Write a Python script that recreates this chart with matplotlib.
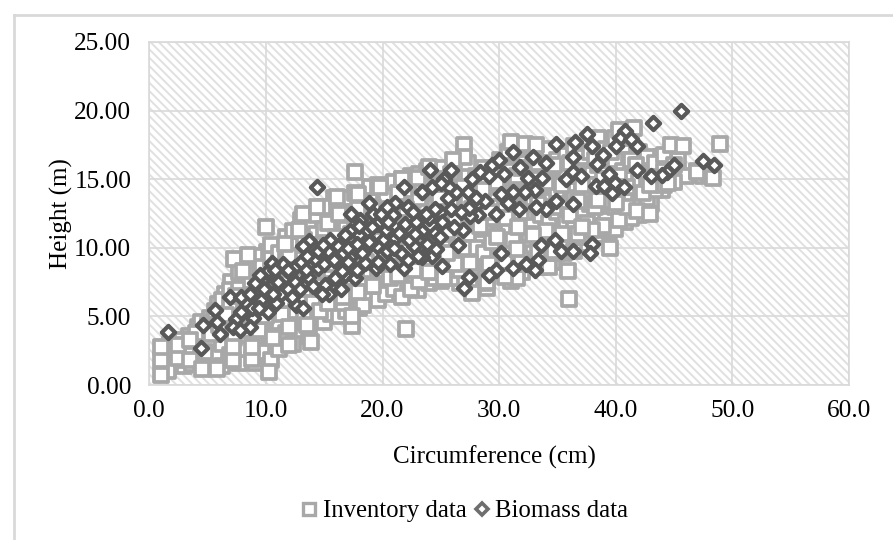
import matplotlib
matplotlib.use("Agg")
import matplotlib.pyplot as plt
from matplotlib.lines import Line2D

plt.rcParams['font.family'] = ['Liberation Serif', 'DejaVu Serif']
plt.rcParams['hatch.color'] = '#e0e0e0'
plt.rcParams['hatch.linewidth'] = 1.4

# values
# squares that stand clear of the cloud, drawn last
inv_out_x = [1.0, 1.0, 1.0, 2.5, 2.5, 3.5, 3.5, 4.5, 5.8, 7.2, 7.2, 8.8, 8.8, 10.3, 10.6, 12.0, 12.0, 13.9, 13.5,
             17.4, 17.4, 22.0, 16.6, 10.0, 7.3, 8.5, 8.0, 11.6, 12.8, 13.2, 14.9, 16.3, 17.6, 16.1, 17.9, 14.4,
             19.8, 21.7, 23.0, 24.0, 27.0, 27.0, 26.0, 31.0, 32.2, 33.2, 40.3, 41.6, 44.7, 45.8, 48.9, 48.3, 47.0,
             35.9, 36.0, 39.5, 41.8, 38.5, 37.1, 40.0, 44.5, 42.9, 38.0, 37.1, 32.9, 31.5, 27.5, 30.5, 27.7, 29.0,
             25.3, 30.6, 31.6, 28.6, 25.5, 24.0, 42.9]
inv_out_y = [0.7, 1.8, 2.8, 2.0, 2.9, 1.8, 3.3, 1.2, 1.2, 1.8, 2.8, 1.9, 2.8, 0.95, 3.4, 2.9, 4.2, 3.1, 4.4,
             4.3, 5.0, 4.1, 6.4, 11.5, 9.2, 9.5, 8.3, 10.3, 11.3, 12.5, 13.0, 12.5, 15.5, 13.7, 13.9, 13.0,
             14.4, 15.0, 15.1, 15.9, 17.5, 16.6, 16.4, 17.7, 17.6, 17.5, 18.6, 18.7, 17.5, 17.4, 17.6, 15.1, 15.5,
             8.3, 6.3, 10.0, 12.7, 13.5, 14.6, 13.3, 14.7, 14.6, 11.3, 11.5, 10.9, 9.9, 8.9, 7.9, 6.7, 7.5,
             7.8, 12.2, 11.5, 14.2, 9.6, 8.2, 12.5]

# the dense band
inv_band_x = [1.2, 1.5, 1.8, 2.1, 2.4, 3.0, 3.0, 3.4, 3.9, 4.2, 4.2, 4.7, 4.9, 5.2, 5.2, 5.5, 5.7, 5.9, 6.1, 6.3,
              6.5, 6.6, 6.8, 7.0, 7.2, 7.5, 7.6, 7.9, 8.0, 8.2, 8.4, 8.6, 8.9, 9.0, 9.3, 9.4, 9.6, 9.8, 9.9, 10.1,
              10.2, 10.4, 10.5, 10.8, 11.0, 11.0, 11.3, 11.4, 11.6, 11.8, 12.0, 12.2, 12.4, 12.5, 12.7, 12.9, 13.0,
              13.2, 13.5, 13.6, 13.8, 14.0, 14.0, 14.4, 14.5, 14.7, 15.0, 15.0, 15.3, 15.5, 15.7, 15.8, 16.0, 16.2,
              16.5, 16.8, 17.0, 17.0, 17.3, 17.5, 17.8, 18.0, 18.2, 18.5, 18.7, 19.0, 19.0, 19.4, 19.5, 19.8, 20.0,
              20.2, 20.4, 20.6, 20.8, 21.0, 21.2, 21.4, 21.6, 22.0, 22.0, 22.3, 22.6, 22.8, 23.0, 23.3, 23.5, 23.8,
              24.0, 24.3, 24.6, 24.8, 25.0, 25.2, 25.6, 25.8, 26.0, 26.3, 26.6, 26.8, 27.0, 27.2, 27.4, 27.6, 28.0,
              28.0, 28.3, 28.6, 29.0, 29.0, 29.3, 29.6, 30.0, 30.0, 30.3, 30.6, 31.0, 31.0, 31.3, 31.6, 32.0, 32.0,
              32.3, 32.7, 33.0, 33.2, 33.5, 33.8, 34.0, 34.0, 34.3, 34.6, 35.0, 35.0, 35.3, 35.6, 36.0, 36.0, 36.3,
              36.6, 37.0, 37.0, 37.4, 37.7, 38.0, 38.4, 38.8, 39.0, 39.0, 39.4, 39.8, 40.0, 40.4, 40.8, 41.0, 41.2,
              41.6, 42.0, 42.0, 42.4, 42.8, 43.0, 43.4, 43.8, 44.0, 44.5, 45.0, 45.3, 46.0, 47.5, 48.0]
inv_band_y = [1.5, 2.2, 3.0, 1.6, 3.1, 1.4, 2.6, 3.6, 2.4, 4.2, 3.4, 2.0, 3.8, 4.9, 2.8, 1.5, 3.6, 5.9, 2.4, 4.5,
              6.6, 1.7, 3.2, 7.5, 5.2, 3.7, 6.2, 2.4, 4.5, 7.2, 5.5, 3.5, 6.8, 8.6, 4.7, 2.2, 3.4, 5.9, 7.8, 9.7,
              2.7, 4.4, 6.7, 9.0, 8.0, 5.2, 3.2, 10.0, 6.5, 8.8, 5.4, 7.3, 4.2, 9.6, 10.6, 6.2, 3.6,
              8.2, 12.2, 5.5, 9.8, 11.5, 6.9, 4.9, 8.6, 12.0, 5.3, 10.8, 7.0, 9.2, 11.9, 13.6, 5.7, 8.0,
              10.3, 12.0, 6.2, 7.4, 9.4, 11.2, 13.2, 5.6, 7.0, 8.5, 12.8, 6.4, 10.2, 14.0, 7.6, 6.8, 9.0,
              11.6, 14.5, 7.2, 8.2, 13.0, 6.7, 10.0, 12.0, 7.5, 14.8, 9.2, 13.5, 7.8, 6.9, 11.0, 8.8, 14.8,
              7.4, 12.8, 15.2, 9.5, 7.6, 11.4, 14.9, 8.3, 13.0, 9.8, 7.4, 11.2, 15.0, 8.6, 12.6, 9.8, 7.4,
              14.6, 10.8, 8.8, 13.0, 7.1, 9.6, 11.6, 15.0, 8.4, 10.2, 13.5, 7.6, 12.0, 9.0, 14.8, 8.2, 10.4,
              13.0, 15.6, 9.2, 11.8, 8.6, 14.2, 10.6, 16.8, 12.5, 9.0, 15.6, 11.5, 13.5, 9.6, 17.0, 10.6, 12.6,
              14.2, 16.0, 10.3, 12.4, 17.5, 15.0, 10.9, 12.8, 17.8, 14.8, 11.2, 16.0, 12.4, 14.8, 11.9, 16.8, 13.6,
              15.2, 17.0, 12.4, 14.4, 16.2, 13.2, 15.6, 16.6, 14.2, 15.8, 15.0, 16.4, 15.2, 15.2, 15.4]

# second and third pass through the band, where the squares pile into solid grey
inv_fill = [
    (1.6, 1.0), (1.6, 2.6), (2.8, 1.8), (2.8, 3.3), (3.7, 1.5), (3.7, 2.9), (4.4, 1.6), (4.4, 2.6), (4.4, 4.6),
    (5.0, 1.3), (5.0, 3.2), (5.0, 4.4), (5.6, 2.2), (5.6, 4.2), (5.6, 5.4), (6.2, 1.4), (6.2, 3.0), (6.2, 5.2), (6.2, 6.2),
    (6.9, 2.2), (6.9, 4.0), (6.9, 5.8), (6.9, 6.9), (7.7, 1.6), (7.7, 3.1), (7.7, 4.9), (7.7, 7.0), (7.7, 8.2),
    (8.3, 2.6), (8.3, 4.0), (8.3, 6.0), (8.3, 8.6), (9.1, 1.6), (9.1, 3.0), (9.1, 5.2), (9.1, 7.2), (9.1, 9.4),
    (9.7, 2.4), (9.7, 4.2), (9.7, 6.4), (9.7, 8.6), (10.4, 1.8), (10.4, 3.6), (10.4, 5.6), (10.4, 7.6), (10.4, 9.2), (10.4, 10.2),
    (11.1, 2.6), (11.1, 4.6), (11.1, 6.2), (11.1, 8.6), (11.1, 9.6), (11.7, 3.8), (11.7, 5.6), (11.7, 7.4), (11.7, 9.2), (11.7, 10.8),
    (12.3, 3.0), (12.3, 4.8), (12.3, 6.8), (12.3, 8.4), (12.3, 10.2), (12.3, 11.2), (13.0, 4.6), (13.0, 6.4), (13.0, 7.8), (13.0, 9.2), (13.0, 11.4), (13.0, 12.0),
    (13.7, 3.8), (13.7, 5.0), (13.7, 7.2), (13.7, 8.8), (13.7, 10.4), (13.7, 11.8), (14.3, 5.8), (14.3, 7.6), (14.3, 9.4), (14.3, 11.0), (14.3, 12.4),
    (15.0, 4.6), (15.0, 6.2), (15.0, 8.0), (15.0, 9.6), (15.0, 11.4), (15.0, 13.0), (15.6, 5.2), (15.6, 6.8), (15.6, 8.4), (15.6, 10.2), (15.6, 12.4),
    (16.3, 5.0), (16.3, 6.6), (16.3, 7.6), (16.3, 9.0), (16.3, 11.0), (16.3, 13.0), (16.9, 5.4), (16.9, 8.6), (16.9, 10.2), (16.9, 11.6), (16.9, 13.6),
    (17.6, 6.6), (17.6, 8.2), (17.6, 9.6), (17.6, 11.4), (17.6, 12.6), (17.6, 14.0), (18.3, 5.8), (18.3, 7.6), (18.3, 9.2), (18.3, 10.8), (18.3, 12.2), (18.3, 13.8),
    (18.9, 6.8), (18.9, 8.4), (18.9, 10.0), (18.9, 11.6), (18.9, 13.4), (18.9, 14.4), (19.6, 6.2), (19.6, 7.8), (19.6, 9.4), (19.6, 11.0), (19.6, 12.6), (19.6, 14.6),
    (20.3, 6.6), (20.3, 8.6), (20.3, 10.4), (20.3, 12.4), (20.3, 13.8), (21.0, 7.0), (21.0, 9.2), (21.0, 11.0), (21.0, 12.6), (21.0, 14.8),
    (21.7, 6.4), (21.7, 8.4), (21.7, 10.4), (21.7, 13.2), (21.7, 15.0), (22.4, 7.0), (22.4, 8.6), (22.4, 10.4), (22.4, 12.2), (22.4, 14.2), (22.4, 15.2),
    (23.1, 7.6), (23.1, 9.4), (23.1, 11.8), (23.1, 13.6), (23.1, 15.4), (23.8, 8.4), (23.8, 10.2), (23.8, 12.2), (23.8, 14.2), (23.8, 15.6),
    (24.5, 7.8), (24.5, 9.0), (24.5, 10.8), (24.5, 13.0), (24.5, 14.6), (25.2, 8.6), (25.2, 10.2), (25.2, 12.6), (25.2, 14.0), (25.2, 15.8),
    (25.9, 7.8), (25.9, 9.2), (25.9, 11.0), (25.9, 13.4), (25.9, 15.4), (26.6, 8.4), (26.6, 10.4), (26.6, 12.4), (26.6, 14.2), (26.6, 16.0),
    (27.3, 9.4), (27.3, 11.0), (27.3, 13.4), (27.3, 15.4), (27.3, 16.2), (28.0, 8.2), (28.0, 10.0), (28.0, 12.0), (28.0, 13.8), (28.0, 15.2),
    (28.7, 7.4), (28.7, 9.6), (28.7, 11.4), (28.7, 13.0), (28.7, 14.8), (28.7, 15.8), (29.4, 8.4), (29.4, 10.4), (29.4, 12.2), (29.4, 14.0), (29.4, 15.4),
    (30.1, 9.2), (30.1, 11.0), (30.1, 13.0), (30.1, 14.4), (30.1, 16.4), (30.8, 8.2), (30.8, 10.0), (30.8, 11.4), (30.8, 14.2), (30.8, 15.6), (30.8, 17.0),
    (31.5, 7.8), (31.5, 9.4), (31.5, 11.0), (31.5, 13.0), (31.5, 15.2), (31.5, 16.8), (32.2, 8.8), (32.2, 10.2), (32.2, 12.2), (32.2, 14.0), (32.2, 16.2),
    (32.9, 9.6), (32.9, 11.6), (32.9, 13.6), (32.9, 15.0), (32.9, 17.0), (33.6, 9.0), (33.6, 10.8), (33.6, 12.4), (33.6, 14.6), (33.6, 16.6),
    (34.3, 8.6), (34.3, 10.0), (34.3, 11.8), (34.3, 13.4), (34.3, 15.0), (34.3, 17.2), (35.0, 9.6), (35.0, 10.6), (35.0, 12.6), (35.0, 14.2), (35.0, 16.4),
    (35.7, 10.2), (35.7, 11.8), (35.7, 13.0), (35.7, 15.4), (35.7, 16.8), (36.4, 9.8), (36.4, 11.4), (36.4, 13.6), (36.4, 15.6), (36.4, 17.4),
    (37.1, 10.8), (37.1, 12.6), (37.1, 14.0), (37.1, 16.6), (37.8, 11.6), (37.8, 13.2), (37.8, 15.4), (37.8, 17.0),
    (38.5, 11.4), (38.5, 12.6), (38.5, 14.6), (38.5, 16.0), (38.5, 18.0), (39.2, 12.0), (39.2, 13.6), (39.2, 15.4), (39.2, 17.2),
    (39.9, 11.4), (39.9, 13.0), (39.9, 14.6), (39.9, 16.4), (39.9, 18.0), (40.6, 12.6), (40.6, 14.0), (40.6, 15.6), (40.6, 17.4),
    (41.3, 12.2), (41.3, 13.4), (41.3, 15.0), (41.3, 16.4), (41.3, 18.0), (42.0, 13.2), (42.0, 14.8), (42.0, 16.0),
    (42.7, 13.6), (42.7, 15.0), (42.7, 16.6), (43.4, 14.2), (43.4, 15.2), (43.4, 16.2), (44.1, 14.6), (44.1, 15.6), (44.1, 16.8),
    (45.0, 14.8), (45.0, 16.0), (47.0, 15.6),
    # third pass
    (3.2, 2.2), (4.0, 3.8), (4.8, 2.4), (5.3, 3.7), (6.0, 4.4), (6.6, 5.1), (7.3, 3.4), (7.4, 6.5), (8.1, 5.2), (8.7, 7.6), (9.4, 6.2), (9.4, 4.0),
    (10.0, 7.2), (10.0, 5.0), (10.7, 8.4), (10.7, 6.0), (11.4, 7.0), (11.4, 5.2), (12.0, 9.4), (12.0, 6.2), (12.6, 7.6), (12.6, 5.4), (13.3, 10.6), (13.3, 7.0), (13.3, 4.9),
    (14.0, 8.2), (14.0, 6.0), (14.6, 10.2), (14.6, 7.2), (14.6, 5.4), (15.3, 11.8), (15.3, 8.8), (15.3, 6.0), (16.0, 10.8), (16.0, 7.2), (16.6, 12.4), (16.6, 9.4), (16.6, 6.0),
    (17.3, 11.0), (17.3, 7.8), (17.9, 12.8), (17.9, 10.0), (17.9, 6.8), (18.6, 11.4), (18.6, 9.0), (19.2, 13.0), (19.2, 7.2), (19.9, 10.6), (19.9, 8.4), (20.6, 12.8), (20.6, 9.6), (20.6, 7.8),
    (21.3, 14.0), (21.3, 11.4), (21.3, 8.0), (22.0, 12.8), (22.0, 9.8), (22.7, 11.2), (22.7, 8.4), (23.4, 14.4), (23.4, 10.0), (24.1, 11.4), (24.1, 9.2), (24.8, 13.6), (24.8, 8.2),
    (25.5, 11.2), (25.5, 15.0), (26.2, 12.2), (26.2, 8.8), (26.9, 14.4), (26.9, 10.0), (27.7, 12.8), (27.7, 8.6), (28.4, 11.6), (28.4, 14.6), (29.1, 8.8), (29.1, 12.6), (29.8, 10.8), (29.8, 14.8),
    (30.5, 9.0), (30.5, 12.8), (31.2, 10.6), (31.2, 14.0), (31.9, 9.2), (31.9, 12.6), (31.9, 15.8), (32.6, 11.0), (32.6, 14.2), (33.3, 9.8), (33.3, 13.2), (33.3, 16.2),
    (34.0, 11.2), (34.0, 14.8), (34.7, 9.8), (34.7, 13.0), (34.7, 16.0), (35.4, 11.0), (35.4, 14.6), (36.1, 12.4), (36.1, 16.2), (36.8, 11.0), (36.8, 13.4), (36.8, 15.2),
    (37.5, 11.8), (37.5, 14.6), (38.2, 13.0), (38.2, 16.4), (38.9, 11.6), (38.9, 15.0), (39.6, 13.4), (39.6, 17.0), (40.3, 12.0), (40.3, 15.2), (41.0, 14.4), (41.0, 13.0), (41.7, 16.0), (42.3, 14.0),
]

bio_x = [1.6, 4.4, 5.6, 4.6, 5.8, 6.1, 6.9, 7.4, 7.2, 7.9, 7.9, 8.6, 9.6, 8.9, 8.6, 10.2, 9.1, 10.6, 11.3, 10.1,
         12.4, 12.6, 14.4, 17.3, 18.8, 21.1, 21.8, 23.4, 19.2, 19.9, 20.9, 21.9, 22.9, 23.4, 18.7, 19.5, 17.2, 18.0,
         15.5, 13.7, 13.2, 14.7, 16.2, 20.0, 21.1, 19.5, 18.5, 17.2, 16.1, 14.5, 12.5, 13.6, 12.5, 15.1, 14.0, 15.9,
         16.8, 17.6, 15.4, 18.5, 19.4, 20.6, 21.8, 21.6, 22.7, 11.5, 10.5, 13.2, 10.9, 24.1, 25.9, 25.3, 24.2, 23.4,
         26.3, 25.7, 27.7, 28.4, 29.1, 29.4, 30.0, 31.2, 30.4, 31.8, 32.9, 34.0, 34.9, 35.7, 33.7, 33.1, 32.2, 31.2,
         30.2, 30.8, 31.7, 28.1, 29.7, 28.2, 27.5, 34.0, 34.9, 25.6, 25.9, 24.0, 26.9, 26.1, 24.5, 23.4, 26.5, 24.2,
         25.1, 23.4, 30.2, 33.6, 34.8, 35.3, 33.3, 31.2, 32.3, 33.1, 29.7, 29.1, 27.4, 27.0, 45.6, 43.2, 48.4, 47.5,
         45.0, 44.4, 44.0, 43.0, 41.8, 41.8, 40.8, 40.4, 40.0, 41.3, 38.9, 38.0, 37.5, 36.5, 36.3, 38.4, 39.4, 36.3,
         39.9, 40.7, 39.7, 38.3, 36.3, 38.0, 37.8, 36.3,
         14.2, 15.0, 16.6, 17.8, 18.2, 19.0, 20.4, 21.4, 22.3, 23.0, 23.8, 24.6, 24.9, 22.2, 20.4, 18.1, 16.8, 15.3,
         13.0, 12.0, 11.0, 9.8, 8.8, 12.9, 14.8, 16.4, 27.3, 28.8, 33.2, 32.5, 37.0, 39.0,
         9.5, 10.8, 11.9, 12.2, 13.4, 14.5, 15.8, 16.5, 17.0, 17.8, 18.8, 19.6, 20.3, 21.0, 22.2, 22.8, 23.7, 24.5,
         25.1, 24.9, 22.6, 20.5, 19.1, 18.0, 17.0, 14.9, 13.5, 11.9, 10.6, 9.4, 7.8, 27.4, 25.0, 26.7, 28.0]
bio_y = [3.85, 2.7, 5.5, 4.4, 4.6, 3.7, 6.4, 4.8, 4.2, 5.3, 6.4, 6.6, 6.2, 4.9, 4.2, 5.3, 7.4, 7.4, 6.6, 8.2,
         7.5, 5.8, 14.4, 12.5, 13.3, 13.3, 14.4, 14.1, 12.5, 12.5, 12.4, 11.7, 11.9, 11.2, 11.2, 11.7, 11.2, 10.9,
         10.6, 10.5, 10.1, 9.8, 10.1, 10.6, 10.7, 10.1, 9.9, 9.3, 9.0, 8.5, 8.6, 7.9, 7.5, 7.3, 7.2, 7.8,
         8.0, 7.8, 6.6, 8.9, 8.5, 8.8, 8.5, 9.6, 10.1, 8.8, 8.9, 5.6, 6.0, 15.7, 15.7, 15.0, 14.4, 14.1,
         14.1, 14.4, 15.0, 15.5, 15.2, 16.0, 16.4, 17.0, 15.4, 15.9, 16.6, 16.2, 17.6, 15.0, 15.1, 14.2, 14.1, 14.1,
         13.9, 13.3, 12.8, 13.2, 12.5, 12.4, 12.3, 12.8, 13.4, 13.6, 12.8, 12.2, 11.3, 11.5, 11.1, 11.2, 10.2, 9.4,
         8.7, 9.3, 9.6, 10.2, 10.6, 9.8, 9.1, 8.5, 8.8, 8.4, 8.4, 8.0, 7.9, 7.1, 20.0, 19.1, 16.0, 16.3,
         16.0, 15.5, 15.3, 15.2, 15.7, 17.4, 18.5, 18.0, 17.4, 17.9, 16.8, 17.4, 18.3, 17.7, 16.6, 16.1, 15.4, 15.5,
         14.7, 14.4, 14.0, 14.5, 13.2, 10.3, 9.6, 9.8,
         9.2, 8.8, 9.6, 8.4, 9.6, 10.4, 9.8, 11.1, 10.6, 9.4, 10.3, 9.9, 12.6, 13.0, 13.0, 12.0, 10.9, 9.8,
         9.0, 8.2, 7.5, 7.0, 5.6, 7.0, 6.6, 7.0, 14.1, 13.4, 13.0, 15.1, 15.2, 14.5,
         8.0, 8.4, 7.0, 6.4, 8.4, 9.8, 9.1, 8.3, 10.0, 10.3, 10.4, 9.0, 11.3, 10.0, 9.1, 11.0, 12.5, 12.8,
         11.9, 10.8, 12.6, 11.9, 11.5, 11.6, 9.0, 10.2, 9.4, 8.4, 6.6, 5.6, 4.0, 12.9, 14.7, 12.6, 13.6]

x_ticks = [0, 10, 20, 30, 40, 50, 60]
y_ticks = [0, 5, 10, 15, 20, 25]

W, H = 893, 540
fig = plt.figure(figsize=(W / 100, H / 100), dpi=100)
ax = fig.add_axes([149.3 / W, 1 - 385 / H, (849 - 149.3) / W, (385 - 42) / H])

ax.patch.set_facecolor('white')
ax.patch.set_hatch('\\\\\\\\')
ax.patch.set_edgecolor('#e0e0e0')

fill_x = [p[0] for p in inv_fill]
fill_y = [p[1] for p in inv_fill]
all_x = inv_band_x + fill_x + inv_out_x
all_y = inv_band_y + fill_y + inv_out_y
ax.scatter(all_x, all_y, marker='s', s=88, facecolor='white', edgecolor='#a8a8a8', linewidth=2.7, clip_on=False, zorder=3)
ax.scatter(bio_x, bio_y, marker='D', s=46, facecolor='white', edgecolor='#595959', linewidth=3.0, clip_on=False, zorder=4)

ax.set_xlim(0, 60)
ax.set_ylim(0, 25)
ax.set_xticks(x_ticks)
ax.set_yticks(y_ticks)
ax.set_xticklabels([f"{v:.1f}" for v in x_ticks])
ax.set_yticklabels([f"{v:.2f}" for v in y_ticks])
ax.tick_params(length=0, labelsize=18.2, pad=13, colors='black')
ax.tick_params(axis='x', pad=11)
ax.grid(True, color='#d9d9d9', linewidth=1.2, zorder=1)
ax.set_axisbelow(True)
for s in ax.spines.values():
    s.set_color('#d9d9d9')
    s.set_linewidth(1.2)

ax.set_xlabel("Circumference (cm)", fontsize=18, labelpad=17, x=0.4935)
ax.set_ylabel("Height (m)", fontsize=18, labelpad=1)

handles = [
    Line2D([], [], linestyle='none', marker='s', markersize=8, markerfacecolor='white', markeredgecolor='#a8a8a8', markeredgewidth=2.4, label="Inventory data"),
    Line2D([], [], linestyle='none', marker='D', markersize=6.5, markerfacecolor='white', markeredgecolor='#6e6e6e', markeredgewidth=2.6, label="Biomass data"),
]
fig.legend(handles=handles, loc='center', bbox_to_anchor=(462 / W, 1 - 511 / H), ncol=2, frameon=False,
           fontsize=17.8, handletextpad=0.0, columnspacing=0.05, handlelength=1.1)

# outer chart frame
fig.add_artist(Line2D([13.5 / W, 13.5 / W], [0, 1 - 14.5 / H], color='#d9d9d9', linewidth=2))
fig.add_artist(Line2D([13.5 / W, 1], [1 - 14.5 / H, 1 - 14.5 / H], color='#d9d9d9', linewidth=2))

fig.savefig("out.png", dpi=100)
